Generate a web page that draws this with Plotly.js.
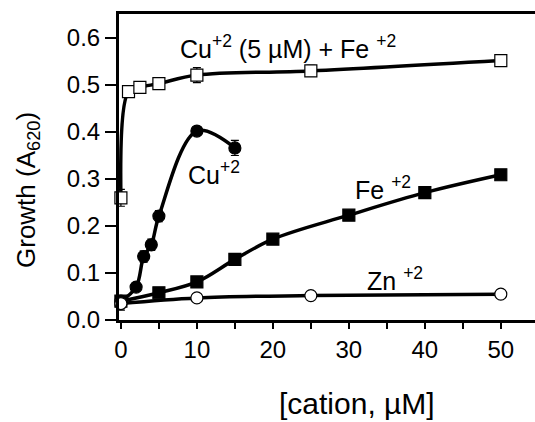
<!DOCTYPE html>
<html><head><meta charset="utf-8">
<script src="https://cdn.plot.ly/plotly-3.0.1.min.js"></script>
<style>html,body{margin:0;padding:0;background:#fff}#plot{width:535px;height:422px}</style>
</head><body><div id="plot"></div>
<script>
const cuFeX = [0, 1, 2.5, 5, 10, 25, 50];
const cuFeY = [0.26, 0.486, 0.495, 0.503, 0.521, 0.530, 0.552];
const cuFeErr = [0.018, 0.006, 0.006, 0.006, 0.016, 0.012, 0.006];
const cuX = [0, 2, 3, 4, 5, 10, 15];
const cuY = [0.04, 0.07, 0.135, 0.16, 0.221, 0.402, 0.366];
const cuErr = [0.005, 0.006, 0.012, 0.012, 0.012, 0.005, 0.016];
const feX = [0, 5, 10, 15, 20, 30, 40, 50];
const feY = [0.04, 0.058, 0.081, 0.129, 0.172, 0.223, 0.271, 0.309];
const feErr = [0.005, 0.005, 0.005, 0.005, 0.005, 0.005, 0.005, 0.01];
const znX = [0, 10, 25, 50];
const znY = [0.035, 0.047, 0.052, 0.055];
const znErr = [0.014, 0.004, 0.004, 0.004];

const FONT = "Liberation Sans, Arial, sans-serif";
function tr(x, y, err, symbol, fill) {
  return {
    x: x, y: y, type: 'scatter', mode: 'lines+markers',
    line: {color: '#000', width: 3.5, shape: 'spline', smoothing: 1},
    marker: {symbol: symbol, size: 12, color: fill, line: {color: '#000', width: 1.2}},
    error_y: {type: 'data', array: err, visible: true, color: '#000', thickness: 1.2, width: 4},
    cliponaxis: false, showlegend: false
  };
}
const data = [
  tr(feX, feY, feErr, 'square', '#000'),
  tr(cuX, cuY, cuErr, 'circle', '#000'),
  tr(cuFeX, cuFeY, cuFeErr, 'square', '#fff'),
  tr(znX, znY, znErr, 'circle', '#fff')
];
const ann = (x, y, text, size) => ({x: x, y: y, xref: 'x', yref: 'y', text: text, showarrow: false,
  xanchor: 'center', yanchor: 'middle', font: {family: FONT, size: size, color: '#000'}});
const pw = 535 - 119, ph = 422 - 14 - 102;
const layout = {
  width: 535, height: 422,
  margin: {l: 119, r: 0, t: 14, b: 102},
  paper_bgcolor: '#fff', plot_bgcolor: '#fff',
  font: {family: FONT, color: '#000'},
  xaxis: {range: [-0.25, 54.5], tickvals: [0, 10, 20, 30, 40, 50], ticks: 'outside', ticklen: 6, tickwidth: 2,
    minor: {dtick: 5, tick0: 0, ticks: 'outside', ticklen: 6, tickwidth: 2, tickcolor: '#000'},
    showline: true, linewidth: 3, linecolor: '#000', mirror: true, showgrid: false, zeroline: false,
    tickfont: {size: 24, family: FONT}, tickcolor: '#000'},
  yaxis: {range: [0, 0.651], tickvals: [0, 0.1, 0.2, 0.3, 0.4, 0.5, 0.6], ticktext: ['0.0','0.1','0.2','0.3','0.4','0.5','0.6'],
    ticks: 'outside', ticklen: 11, tickwidth: 2, tickcolor: '#000',
    showline: true, linewidth: 3, linecolor: '#000', mirror: false, showgrid: false, zeroline: false,
    tickfont: {size: 24, family: FONT}},
  annotations: [
    ann(22.0, 0.58, 'Cu<sup>+2</sup> (5 µM) + Fe <sup>+2</sup>', 25),
    ann(12.2, 0.312, 'Cu<sup>+2</sup>', 25),
    ann(34.5, 0.28, 'Fe <sup>+2</sup>', 25),
    ann(36.1, 0.087, 'Zn <sup>+2</sup>', 25),
    {x: (357 - 119) / pw, y: (422 - 102 - 403) / ph, xref: 'paper', yref: 'paper', text: '[cation, µM]', showarrow: false,
      xanchor: 'center', yanchor: 'middle', font: {family: FONT, size: 30, color: '#000'}},
    {x: (27 - 119) / pw, y: (422 - 102 - 190) / ph, xref: 'paper', yref: 'paper', xanchor: 'center', yanchor: 'middle',
      text: 'Growth (A<sub>620</sub>)', textangle: -90, showarrow: false, font: {family: FONT, size: 26, color: '#000'}}
  ]
};
Plotly.newPlot('plot', data, layout, {staticPlot: true});
</script></body></html>
